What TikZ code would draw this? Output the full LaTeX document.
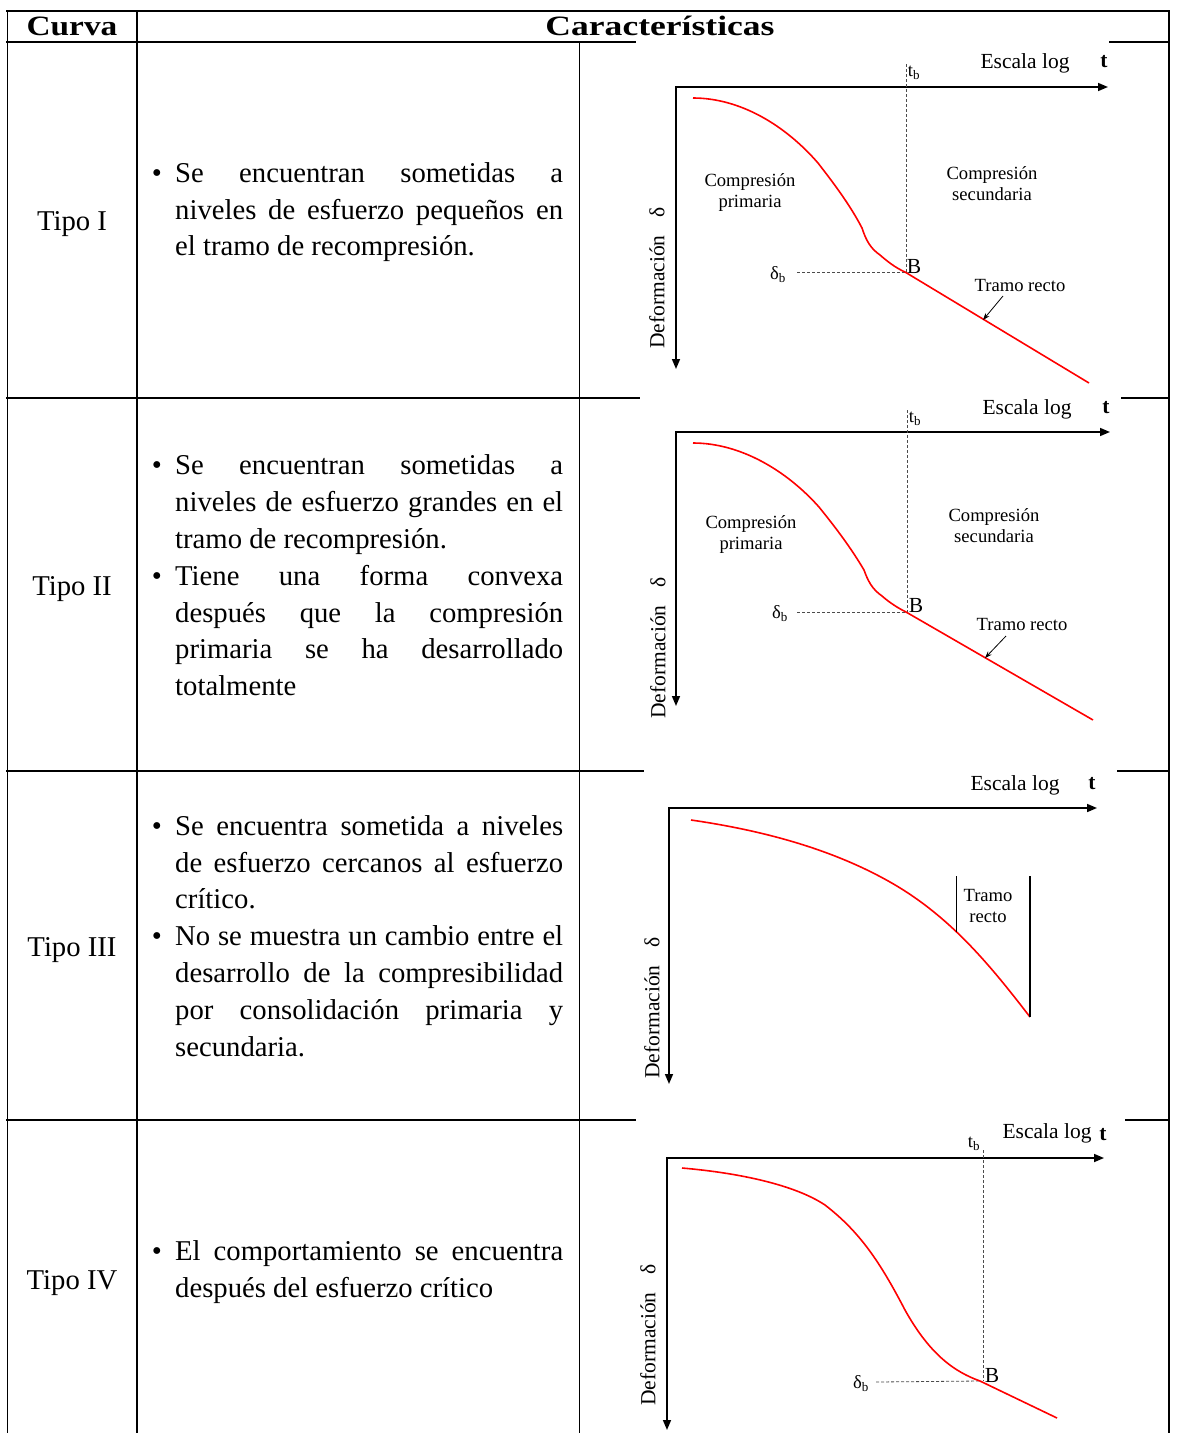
\documentclass[tikz,border=0pt]{standalone}
\usepackage{fontspec}
\setmainfont{Liberation Serif}
\usetikzlibrary{arrows.meta}
\newcommand\headfont{\fontsize{28}{30}\selectfont\bfseries}
\newcommand{\jline}[3]{\node[body] (#1) at (175,#2) {\makebox[388pt][s]{#3}};}
\newcommand{\lline}[3]{\node[body] (#1) at (175,#2) {#3};}
\newcommand{\bul}[2]{\node[body,anchor=base] (#1) at (157,#2) {\textbullet};}
\tikzset{
  tbl/.style={line width=1.8pt, line cap=rect},
  axis/.style={line width=1.6pt, {Triangle[length=10pt,width=8pt]}-{Triangle[length=10pt,width=8pt]}},
  curve/.style={red, line width=1.6pt},
  guide/.style={black!70, line width=0.8pt, dash pattern=on 3pt off 2pt},
  ptr/.style={line width=0.8pt, -{Stealth[length=7pt,width=5pt]}},
  tickline/.style={line width=1.4pt},
  head/.style={inner sep=0pt, anchor=base},
  body/.style={font=\fontsize{28.7}{34}\selectfont, inner sep=0pt, anchor=base west},
  tipo/.style={font=\fontsize{28.7}{34}\selectfont, inner sep=0pt, anchor=base},
  lab/.style={font=\fontsize{18.6}{21}\selectfont, inner sep=0pt, align=center},
  axlab/.style={font=\fontsize{21.5}{24}\selectfont, inner sep=0pt},
}
\begin{document}
\begin{tikzpicture}[x=1pt,y=-1pt]
\useasboundingbox (0,0) rectangle (1176,1433);
\fill[white] (0,0) rectangle (1176,1433);
% ---------- table rules ----------
\draw[tbl] (7,11) -- (1169,11);
\draw[tbl] (7,42) -- (635,42);     \draw[tbl] (1110,42) -- (1169,42);
\draw[tbl] (7,398) -- (639,398);   \draw[tbl] (1122,398) -- (1169,398);
\draw[tbl] (7,771) -- (643,771);   \draw[tbl] (1118,771) -- (1169,771);
\draw[tbl] (7,1120) -- (635,1120); \draw[tbl] (1126,1120) -- (1169,1120);
\draw[tbl] (7.5,11) -- (7.5,1440);
\draw[tbl] (137,11) -- (137,1440);
\draw[tbl] (579.5,42) -- (579.5,1440);
\draw[tbl] (1169,11) -- (1169,1440);
% ---------- header ----------
\node[head] (hcurva) at (72,35) {\scalebox{1.19}[1]{\headfont Curva}};
\node[head] (hcarac) at (660,35) {\scalebox{1.27}[1]{\headfont Caracter\'{\i}sticas}};
% ---------- first column ----------
\node[tipo] (tipo1) at (72,230) {Tipo I};
\node[tipo] (tipo2) at (72,595) {Tipo II};
\node[tipo] (tipo3) at (72,956) {Tipo III};
\node[tipo] (tipo4) at (72,1289) {Tipo IV};
% ---------- row 1 text ----------
\bul{b1}{182}
\jline{r1a}{182}{Se encuentran sometidas a}
\jline{r1b}{219}{niveles de esfuerzo pequeños en}
\lline{r1c}{255}{el tramo de recompresión.}
% ---------- row 2 text ----------
\bul{b2}{474}
\jline{r2a}{474}{Se encuentran sometidas a}
\jline{r2b}{511}{niveles de esfuerzo grandes en el}
\lline{r2c}{548}{tramo de recompresión.}
\bul{b3}{585}
\jline{r2d}{585}{Tiene una forma convexa}
\jline{r2e}{622}{después que la compresión}
\jline{r2f}{658}{primaria se ha desarrollado}
\lline{r2g}{695}{totalmente}
% ---------- row 3 text ----------
\bul{b4}{835}
\jline{r3a}{835}{Se encuentra sometida a niveles}
\jline{r3b}{872}{de esfuerzo cercanos al esfuerzo}
\lline{r3c}{908}{crítico.}
\bul{b5}{945}
\jline{r3d}{945}{No se muestra un cambio entre el}
\jline{r3e}{982}{desarrollo de la compresibilidad}
\jline{r3f}{1019}{por consolidación primaria y}
\lline{r3g}{1056}{secundaria.}
% ---------- row 4 text ----------
\bul{b6}{1260}
\jline{r4a}{1260}{El comportamiento se encuentra}
\lline{r4b}{1297}{después del esfuerzo crítico}
% ================= figure 1 =================
\coordinate (f1o) at (676,87);
\coordinate (f1x) at (1108,87);
\coordinate (f1y) at (676,369);
\draw[axis] (f1x) -- (f1o) -- (f1y);
\node[axlab] (f1esc) at (1025,63) {Escala log};
\node[axlab] (f1t) at (1104,62) {\textbf{t}};
\node[lab] (f1tb) at (914,73) {t\textsubscript{b}};
\node[lab] (f1cp) at (750,192.5) {Compresión\\primaria};
\node[lab] (f1cs) at (992,183.5) {Compresión\\secundaria};
\node[lab] (f1db) at (778,275) {δ\textsubscript{b}};
\node[axlab] (f1bl) at (914,266) {B};
\node[lab] (f1tr) at (1020,285) {Tramo recto};
\node[axlab,rotate=90] (f1def) at (657,278) {Deformación\hspace{18pt}δ};
\coordinate (f1b) at (905,272);
\coordinate (f1vt) at (906,64);
\coordinate (f1hl) at (797,272);
\draw[guide] (f1vt) -- (f1vt |- f1b);
\draw[guide] (f1hl) -- (f1b);
\draw[curve] (693,98) .. controls (740,98) and (785,125) .. (818,163)
  .. controls (835,185) and (850,205) .. (862,228)
  .. controls (866,240) and (870,248) .. (880,255)
  .. controls (888,262) and (896,268) .. (f1b) -- (1089,383);
\coordinate (f1as) at (1003,296);
\coordinate (f1ae) at (983,320);
\draw[ptr] (f1as) -- (f1ae);
% ================= figure 2 =================
\coordinate (f2o) at (676,432);
\coordinate (f2x) at (1110,432);
\coordinate (f2y) at (676,706);
\draw[axis] (f2x) -- (f2o) -- (f2y);
\node[axlab] (f2esc) at (1027,409) {Escala log};
\node[axlab] (f2t) at (1106,408) {\textbf{t}};
\node[lab] (f2tb) at (915,419) {t\textsubscript{b}};
\node[lab] (f2cp) at (751,534.5) {Compresión\\primaria};
\node[lab] (f2cs) at (994,526) {Compresión\\secundaria};
\node[lab] (f2db) at (780,614) {δ\textsubscript{b}};
\node[axlab] (f2bl) at (916,605) {B};
\node[lab] (f2tr) at (1022,624) {Tramo recto};
\node[axlab,rotate=90] (f2def) at (658,648) {Deformación\hspace{18pt}δ};
\coordinate (f2b) at (906,612);
\coordinate (f2vt) at (907,410);
\coordinate (f2hl) at (797,612);
\draw[guide] (f2vt) -- (f2vt |- f2b);
\draw[guide] (f2hl) -- (f2b);
\draw[curve] (693,443) .. controls (740,443) and (786,470) .. (819,507)
  .. controls (836,528) and (851,548) .. (864,570)
  .. controls (868,581) and (872,589) .. (882,596)
  .. controls (890,603) and (898,608) .. (f2b) -- (1093,720);
\coordinate (f2as) at (1006,636);
\coordinate (f2ae) at (985,658);
\draw[ptr] (f2as) -- (f2ae);
% ================= figure 3 =================
\coordinate (f3o) at (669,808);
\coordinate (f3x) at (1097,808);
\coordinate (f3y) at (669,1084);
\draw[axis] (f3x) -- (f3o) -- (f3y);
\node[axlab] (f3esc) at (1015,785) {Escala log};
\node[axlab] (f3t) at (1092,784) {\textbf{t}};
\node[axlab,rotate=90] (f3def) at (652,1008) {Deformación\hspace{18pt}δ};
\node[lab] (f3tr) at (988,906) {Tramo\\recto};
\coordinate (f3top) at (0,876);
\draw[curve] (691,820) .. controls (760,830) and (830,848) .. (890,882)
  .. controls (950,916) and (990,965) .. (1030,1017) coordinate[pos=0.42] (f3a) coordinate (f3e);
\draw[tickline] (f3a) -- (f3a |- f3top);
\draw[tickline] (f3e) -- (f3e |- f3top);
% ================= figure 4 =================
\coordinate (f4o) at (667,1158);
\coordinate (f4x) at (1104,1158);
\coordinate (f4y) at (667,1430);
\draw[axis] (f4x) -- (f4o) -- (f4y);
\node[axlab] (f4esc) at (1047,1133) {Escala log};
\node[axlab] (f4t) at (1103,1135) {\textbf{t}};
\node[lab] (f4tb) at (974,1144) {t\textsubscript{b}};
\node[lab] (f4db) at (861,1384) {δ\textsubscript{b}};
\node[axlab] (f4bl) at (992,1375) {B};
\node[axlab,rotate=90] (f4def) at (648,1335) {Deformación\hspace{18pt}δ};
\coordinate (f4b) at (980,1381);
\coordinate (f4vt) at (983,1150);
\coordinate (f4hl) at (876,1382);
\draw[guide] (f4vt) -- (f4vt |- f4b);
\draw[guide] (f4hl) -- (f4b);
\draw[curve] (682,1168) .. controls (740,1173) and (795,1185) .. (825,1205)
  .. controls (860,1232) and (880,1262) .. (905,1310)
  .. controls (930,1355) and (955,1372) .. (f4b) -- (1057,1418);
\end{tikzpicture}
\end{document}
